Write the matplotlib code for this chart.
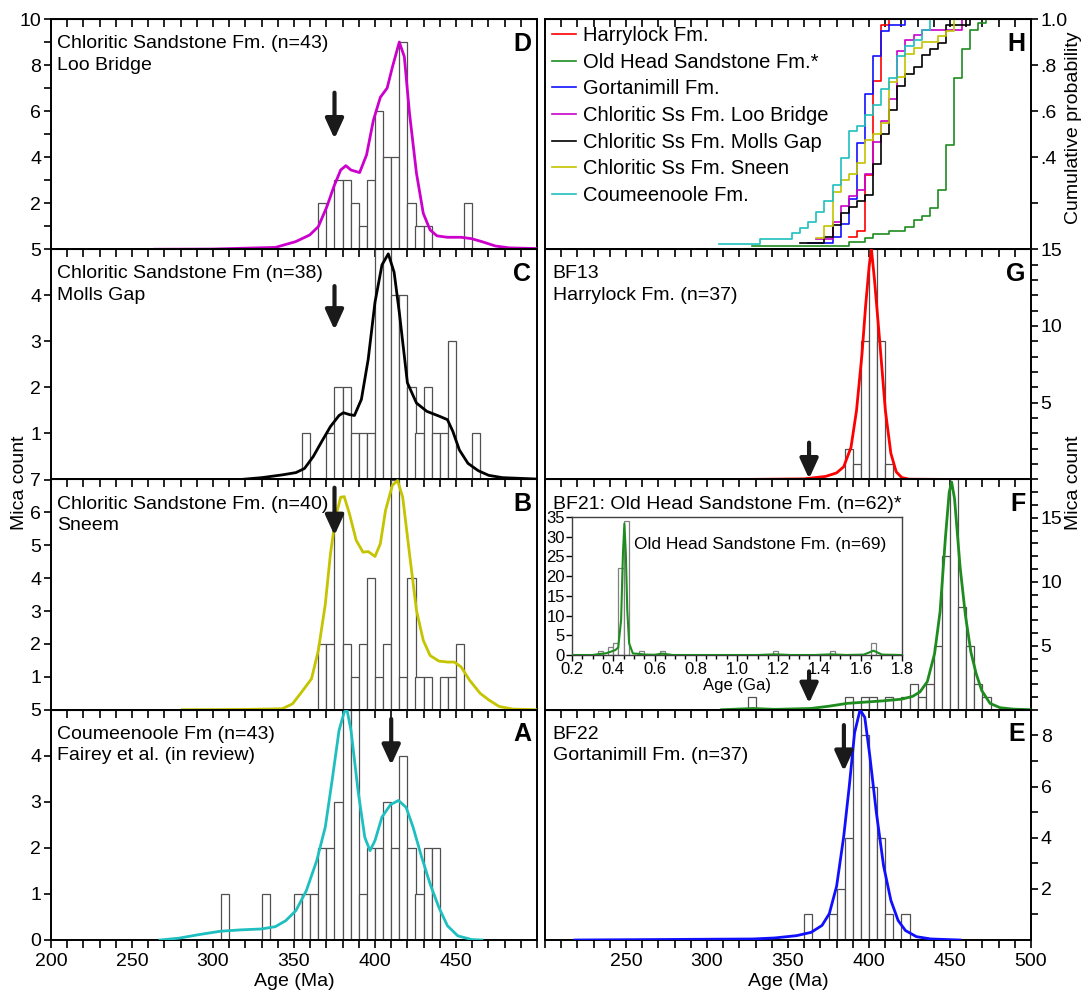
import numpy as np
import matplotlib
matplotlib.use("Agg")
import matplotlib.pyplot as plt

plt.rcParams['font.family'] = ['Liberation Sans', 'DejaVu Sans']
plt.rcParams['font.size'] = 14

BIN = 5  # Ma

# ---- histogram data: bin left edge (Ma) and number of micas ----
loo_edges = [365, 375, 380, 385, 390, 395, 400, 405, 410, 415, 420, 425, 430, 455]
loo_counts = [2, 3, 3, 2, 1, 3, 6, 4, 4, 9, 2, 1, 1, 2]

molls_edges = [355, 370, 375, 380, 385, 390, 395, 400, 405, 410, 415, 420, 425, 430, 435, 440, 445, 460]
molls_counts = [1, 1, 2, 2, 1, 1, 1, 5, 5, 4, 4, 2, 1, 2, 1, 1, 3, 1]

sneem_edges = [365, 370, 375, 380, 385, 390, 395, 400, 405, 410, 415, 420, 425, 430, 440, 445, 450]
sneem_counts = [2, 2, 6, 2, 1, 2, 4, 1, 2, 7, 1, 4, 1, 1, 1, 1, 2]

coum_edges = [305, 330, 350, 355, 360, 365, 370, 375, 380, 385, 390, 395, 400, 405, 410, 415, 420, 425, 430, 435]
coum_counts = [1, 1, 1, 1, 1, 2, 2, 3, 5, 5, 1, 2, 2, 3, 2, 4, 2, 1, 2, 2]

harry_edges = [385, 390, 395, 400, 405, 410]
harry_counts = [2, 1, 9, 15, 9, 1]

oldhead_edges = [325, 385, 395, 400, 410, 420, 425, 430, 435, 440, 445, 450, 455, 460, 465, 470]
oldhead_counts = [1, 1, 1, 1, 1, 1, 2, 1, 2, 5, 12, 18, 8, 5, 2, 1]

gort_edges = [360, 375, 380, 385, 390, 395, 400, 405, 410, 420]
gort_counts = [1, 1, 2, 4, 9, 8, 6, 4, 1, 1]

# full Old Head sample (n=69), Ga bins of 0.025
inset_edges = [0.325, 0.375, 0.400, 0.425, 0.450, 0.525, 0.625, 1.175, 1.450, 1.650]
inset_counts = [1, 2, 3, 22, 34, 1, 1, 1, 1, 3]

# ---- density curves (age, height in count units) ----
loo_curve_age = [264, 300, 338.5, 351, 359.7, 365, 370.3, 374.6, 378.8, 382, 385.2, 390.5, 394.8, 399,
                 403.3, 407.5, 410.7, 415, 418.1, 421.3, 425.6, 429.8, 434, 438.3, 444.7, 453.2, 459.6,
                 466, 474.4, 482.9, 500]
loo_curve_val = [0, 0.01, 0.08, 0.33, 0.62, 0.98, 1.85, 2.72, 3.44, 3.63, 3.44, 3.33, 4.1, 5.6,
                 6.6, 7.0, 7.9, 9.0, 8.36, 5.9, 3.3, 1.56, 0.84, 0.58, 0.52, 0.52, 0.46,
                 0.33, 0.14, 0.06, 0.03]

molls_curve_age = [317, 330, 342.7, 351.2, 356.5, 361.9, 367.2, 372.5, 377.8, 380.5, 384.2, 387.3, 391.6,
                   395.8, 400, 404.3, 408.2, 411.8, 415, 420, 425.6, 432, 440, 444.7, 448, 452.1, 457.4,
                   463.8, 470.2, 478.7, 500]
molls_curve_val = [0, 0.04, 0.1, 0.15, 0.24, 0.5, 0.83, 1.15, 1.39, 1.45, 1.41, 1.39, 1.74,
                   2.61, 3.85, 4.66, 4.9, 4.5, 3.63, 2.1, 1.66, 1.48, 1.37, 1.3, 1.05, 0.64, 0.35,
                   0.19, 0.09, 0.04, 0.01]

sneem_curve_age = [281, 320, 342.7, 349.1, 355.5, 360.8, 365, 369.3, 372.5, 375.7, 378.8, 381, 384.2,
                   388.4, 392.6, 395.8, 400, 403.3, 406.5, 410.7, 413.9, 417.1, 421.3, 425.6, 429.8,
                   434, 439.4, 444.7, 449, 453.2, 458.5, 464.9, 470.2, 476.6, 485, 500]
sneem_curve_val = [0, 0.01, 0.03, 0.18, 0.59, 0.94, 1.8, 3.2, 4.74, 5.86, 6.46, 6.48, 5.96,
                   5.15, 4.79, 4.81, 4.66, 5.05, 6.06, 6.82, 6.97, 6.46, 4.74, 3.02, 2.11,
                   1.65, 1.48, 1.45, 1.45, 1.3, 0.89, 0.5, 0.3, 0.1, 0.02, 0]

coum_curve_age = [267.3, 279, 291.8, 304.5, 317.2, 330, 338.5, 344.9, 351.2, 357.6, 364, 369.3, 373.5,
                  377.8, 381, 382.7, 385.2, 389.5, 393.7, 396.9, 400, 404.3, 409.6, 414.5, 419.2,
                  423.5, 428.8, 434, 439.4, 444.7, 451.1, 459.6, 466]
coum_curve_val = [0, 0.04, 0.12, 0.19, 0.22, 0.24, 0.29, 0.42, 0.64, 1.07, 1.72, 2.45, 3.46,
                  4.55, 4.95, 5.0, 4.55, 3.25, 2.23, 1.94, 2.16, 2.67, 2.94, 3.03, 2.88,
                  2.45, 1.8, 1.22, 0.71, 0.31, 0.09, 0.01, 0]

harry_curve_age = [318, 359.8, 373.2, 380, 384.4, 388.9, 392.3, 395.7, 397.9, 400.1, 401.5, 403.4,
                   406.7, 410.1, 413.5, 416.8, 420.2, 424.7, 457]
harry_curve_val = [0, 0.04, 0.2, 0.43, 0.83, 2.1, 4.5, 8.2, 11.3, 13.9, 15.0, 13.0,
                   8.9, 4.5, 1.7, 0.5, 0.13, 0.02, 0]

oldhead_curve_age = [309, 328.4, 341.8, 364.2, 375.4, 386.6, 397.9, 409.1, 420.3, 427, 431.5, 436,
                     440.5, 443.9, 447.2, 449.5, 451, 452.8, 456.2, 459.5, 462.9, 466.2, 469.6,
                     474.7, 480.9, 489, 500]
oldhead_curve_val = [0, 0.1, 0.03, 0.1, 0.28, 0.5, 0.6, 0.7, 0.83, 1.05, 1.4, 2.2,
                     4.4, 7.7, 13.5, 17, 17.8, 16.5, 11.2, 7.4, 4.5, 2.8, 1.5,
                     0.5, 0.16, 0.05, 0]

gort_curve_age = [218.5, 328.4, 341.8, 355.3, 364.3, 371, 375.5, 380, 384.4, 387.8, 391.1, 394.5,
                  397.4, 400.5, 404.5, 409, 413.5, 418, 422.5, 429.3, 438.2, 456.2]
gort_curve_val = [0, 0.04, 0.08, 0.17, 0.3, 0.57, 1.03, 2.1, 4.05, 6.0, 8.1, 9.0,
                  8.7, 7.2, 5.0, 2.9, 1.55, 0.76, 0.37, 0.13, 0.04, 0]

inset_curve_age = [0.2, 0.3, 0.332, 0.362, 0.389, 0.41, 0.424, 0.438, 0.447, 0.454, 0.461, 0.468,
                   0.477, 0.495, 0.53, 0.556, 0.6, 0.636, 0.689, 1.1, 1.183, 1.26, 1.38, 1.456,
                   1.53, 1.615, 1.662, 1.703, 1.8]
inset_curve_val = [0, 0, 0.25, 0.4, 0.85, 1.25, 1.9, 8.8, 25.7, 33.3, 25.7, 11.4,
                   2.95, 0.4, 0.25, 0.1, 0.05, 0.35, 0, 0, 0.17, 0, 0, 0.17,
                   0, 0.1, 1.1, 0.1, 0]

# arrows: (age, tail, tip)
arrow_D = (375, 6.8, 4.8)
arrow_C = (375, 4.2, 3.25)
arrow_B = (375, 6.75, 5.3)
arrow_A = (410, 4.8, 3.8)
arrow_G = (363, 2.4, 0.05)
arrow_F = (363, 3.0, 0.5)
arrow_E = (384.5, 8.4, 6.6)

C_MAG = '#cc00cc'
C_BLK = 'black'
C_YEL = '#c4c400'
C_CYA = '#1fbfbf'
C_RED = '#ff0000'
C_GRN = '#1e8c1e'
C_BLU = '#1010ff'

fig = plt.figure(figsize=(10.9, 9.94), dpi=100)

LX, RX, W = 51 / 1090, 545 / 1090, 486 / 1090
H = 230.25 / 994
B0 = 1 - 940 / 994
rows = [B0 + 3 * H, B0 + 2 * H, B0 + H, B0]


def base_axes(x0, y0, bottom_row, right_col):
    ax = fig.add_axes([x0, y0, W, H])
    ax.set_xlim(200, 500)
    for s in ax.spines.values():
        s.set_linewidth(1.4)
    top = ax.secondary_xaxis('top')
    top.set_xticks(np.arange(200, 501, 10))
    top.tick_params(direction='in', length=6, width=1.2, labeltop=False)
    if bottom_row:
        ax.set_xticks(np.arange(200, 501, 50))
        ax.set_xticks(np.arange(200, 501, 10), minor=True)
        ax.tick_params(axis='x', which='both', direction='out', length=6, width=1.2)
        labels = [str(v) if (v < 500 if not right_col else v > 200) else ''
                  for v in range(200, 501, 50)]
        ax.set_xticklabels(labels)
        ax.set_xlabel('Age (Ma)', labelpad=2)
    else:
        ax.tick_params(axis='x', which='both', bottom=False, labelbottom=False)
    if right_col:
        ax.yaxis.tick_right()
        ax.tick_params(axis='y', which='both', left=False, right=True)
    ax.tick_params(axis='y', which='both', direction='out', length=5, width=1.2, pad=2)
    return ax


def hist_panel(ax, edges, counts, cx, cy, color, ymax):
    ax.bar(edges, counts, width=BIN, align='edge', facecolor='white',
           edgecolor='#505050', linewidth=0.9, zorder=2)
    ax.plot(cx, cy, color=color, lw=2, zorder=3)
    ax.set_ylim(0, ymax)


def arrow(ax, spec):
    x, tail, tip = spec
    ax.annotate('', xy=(x, tip), xytext=(x, tail),
                arrowprops=dict(arrowstyle='-|>,head_length=1.2,head_width=0.55',
                                lw=3, color='#1a1a1a', shrinkA=0, shrinkB=0,
                                mutation_scale=10), zorder=5)


def label(ax, text, x=0.012):
    ax.text(x, 0.93, text, transform=ax.transAxes, va='top', ha='left',
            fontsize=14, linespacing=1.35, zorder=6)


def letter(ax, s):
    ax.text(0.988, 0.945, s, transform=ax.transAxes, va='top', ha='right',
            fontsize=18, fontweight='bold', zorder=6)


# ---- left column ----
axD = base_axes(LX, rows[0], False, False)
hist_panel(axD, loo_edges, loo_counts, loo_curve_age, loo_curve_val, C_MAG, 10)
axD.set_yticks([2, 4, 6, 8, 10])
axD.set_yticks([1, 3, 5, 7, 9], minor=True)
label(axD, 'Chloritic Sandstone Fm. (n=43)\nLoo Bridge')
letter(axD, 'D')
arrow(axD, arrow_D)

axC = base_axes(LX, rows[1], False, False)
hist_panel(axC, molls_edges, molls_counts, molls_curve_age, molls_curve_val, C_BLK, 5)
axC.set_yticks([1, 2, 3, 4, 5])
label(axC, 'Chloritic Sandstone Fm (n=38)\nMolls Gap')
letter(axC, 'C')
arrow(axC, arrow_C)

axB = base_axes(LX, rows[2], False, False)
hist_panel(axB, sneem_edges, sneem_counts, sneem_curve_age, sneem_curve_val, C_YEL, 7)
axB.set_yticks([1, 2, 3, 4, 5, 6, 7])
label(axB, 'Chloritic Sandstone Fm. (n=40)\nSneem')
letter(axB, 'B')
arrow(axB, arrow_B)

axA = base_axes(LX, rows[3], True, False)
hist_panel(axA, coum_edges, coum_counts, coum_curve_age, coum_curve_val, C_CYA, 5)
axA.set_yticks([0, 1, 2, 3, 4, 5])
label(axA, 'Coumeenoole Fm (n=43)\nFairey et al. (in review)')
letter(axA, 'A')
arrow(axA, arrow_A)

# ---- right column ----
axH = base_axes(RX, rows[0], False, True)
cdf_sets = [
    ('Harrylock Fm.', harry_edges, harry_counts, C_RED),
    ('Old Head Sandstone Fm.*', oldhead_edges, oldhead_counts, C_GRN),
    ('Gortanimill Fm.', gort_edges, gort_counts, C_BLU),
    ('Chloritic Ss Fm. Loo Bridge', loo_edges, loo_counts, C_MAG),
    ('Chloritic Ss Fm. Molls Gap', molls_edges, molls_counts, C_BLK),
    ('Chloritic Ss Fm. Sneen', sneem_edges, sneem_counts, C_YEL),
    ('Coumeenoole Fm.', coum_edges, coum_counts, C_CYA),
]
for name, e, c, col in cdf_sets:
    centers = np.array(e) + BIN / 2
    cum = np.cumsum(c) / np.sum(c)
    axH.plot(centers, cum, drawstyle='steps-post', color=col, lw=1.2, label=name)
axH.set_ylim(0, 1)
axH.set_yticks([0.2, 0.4, 0.6, 0.8, 1.0])
axH.set_yticklabels(['', '.4', '.6', '.8', '1.0'])
axH.legend(loc='upper left', frameon=False, fontsize=14.5, handlelength=1.2,
           handletextpad=0.35, labelspacing=0.38, borderaxespad=0.1, borderpad=0.25)
letter(axH, 'H')

axG = base_axes(RX, rows[1], False, True)
hist_panel(axG, harry_edges, harry_counts, harry_curve_age, harry_curve_val, C_RED, 15)
axG.set_yticks([5, 10, 15])
axG.set_yticks([v for v in range(1, 15) if v % 5], minor=True)
label(axG, 'BF13\nHarrylock Fm. (n=37)', x=0.016)
letter(axG, 'G')
arrow(axG, arrow_G)

axF = base_axes(RX, rows[2], False, True)
hist_panel(axF, oldhead_edges, oldhead_counts, oldhead_curve_age, oldhead_curve_val, C_GRN, 18)
axF.set_yticks([5, 10, 15])
axF.set_yticks([v for v in range(1, 19) if v % 5], minor=True)
label(axF, 'BF21: Old Head Sandstone Fm. (n=62)*', x=0.016)
letter(axF, 'F')
arrow(axF, arrow_F)

axE = base_axes(RX, rows[3], True, True)
hist_panel(axE, gort_edges, gort_counts, gort_curve_age, gort_curve_val, C_BLU, 9)
axE.set_yticks([2, 4, 6, 8])
axE.set_yticks([1, 3, 5, 7, 9], minor=True)
label(axE, 'BF22\nGortanimill Fm. (n=37)', x=0.016)
letter(axE, 'E')
arrow(axE, arrow_E)

# ---- inset: full Old Head sample in Ga ----
axI = fig.add_axes([572 / 1090, 1 - 655 / 994, 330 / 1090, 138 / 994])
axI.bar(inset_edges, inset_counts, width=0.025, align='edge', facecolor='white',
        edgecolor='#808080', linewidth=0.9, zorder=2)
axI.plot(inset_curve_age, inset_curve_val, color=C_GRN, lw=1.5, zorder=3)
axI.set_xlim(0.2, 1.8)
axI.set_ylim(0, 35)
axI.set_xticks(np.arange(0.2, 1.81, 0.2))
axI.set_xticks(np.arange(0.2, 1.81, 0.05), minor=True)
axI.set_xticklabels(['%.1f' % v for v in np.arange(0.2, 1.81, 0.2)])
axI.set_yticks(np.arange(0, 36, 5))
axI.tick_params(which='both', direction='out', length=4, width=1, labelsize=12, pad=1)
axI.tick_params(which='minor', length=3)
for s in axI.spines.values():
    s.set_linewidth(1.0)
    s.set_color('#404040')
axI.set_xlabel('Age (Ga)', fontsize=12, labelpad=1)
axI.text(0.57, 0.8, 'Old Head Sandstone Fm. (n=69)', transform=axI.transAxes,
         ha='center', va='center', fontsize=12.5)

# ---- shared axis titles ----
fig.text(0.018, 1 - 483 / 994, 'Mica count', rotation=90, ha='center', va='center', fontsize=14)
fig.text(1074 / 1090, 1 - 483 / 994, 'Mica count', rotation=90, ha='center', va='center', fontsize=14)
fig.text(1074 / 1090, 1 - 128 / 994, 'Cumulative probability', rotation=90, ha='center',
         va='center', fontsize=14)

fig.savefig('out.png', dpi=100)
